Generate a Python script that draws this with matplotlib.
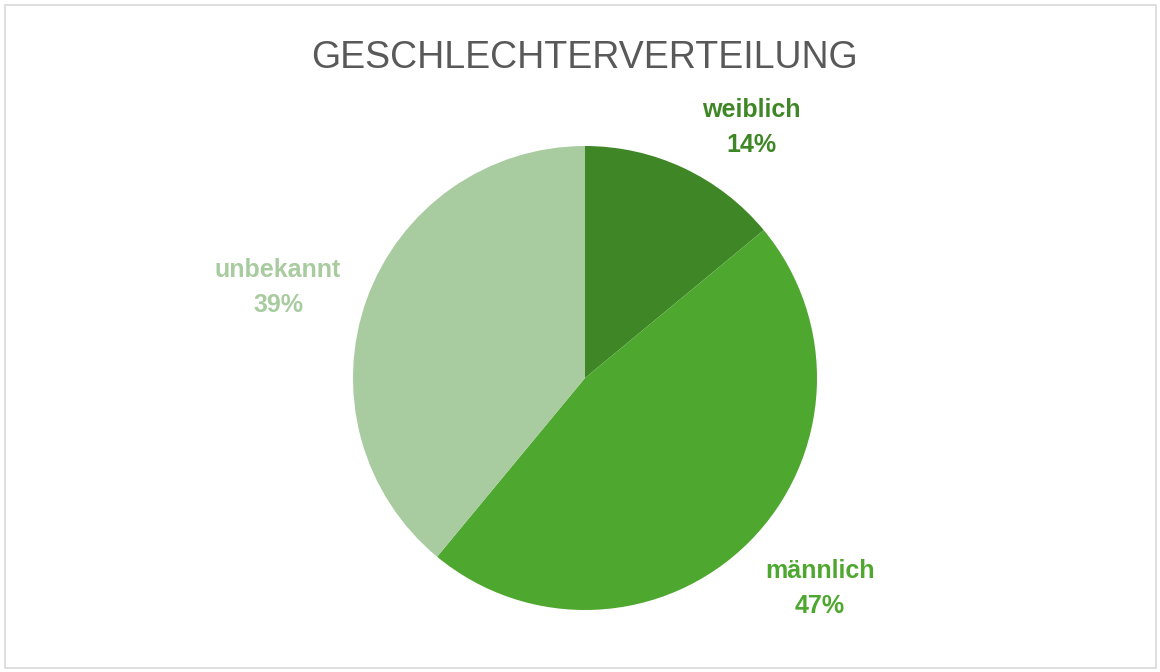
import matplotlib.pyplot as plt
from matplotlib.patches import Rectangle

# data
categories = ['weiblich', 'männlich', 'unbekannt']
shares = [14, 47, 39]
colors = ['#3f8726', '#4ea72e', '#a9cba0']

# label anchors (pie radius units, baseline of name line)
label_pos = [(0.716, 1.125), (1.013, -0.862), (-1.323, 0.435)]

plt.rcParams['font.family'] = ['Liberation Sans', 'DejaVu Sans']

my_dpi = 100
fig = plt.figure(figsize=(1160 / my_dpi, 672 / my_dpi), dpi=my_dpi)
fig.patches.append(Rectangle((5 / 1160, 4 / 672), 1151 / 1160, 663 / 672,
                             transform=fig.transFigure, fill=False,
                             edgecolor='#d9d9d9', linewidth=1.2))

ax = fig.add_axes([353 / 1160, 62 / 672, 464 / 1160, 464 / 672])
ax.pie(shares, colors=colors, startangle=90, counterclock=False,
       wedgeprops=dict(edgecolor='none'))
ax.set_xlim(-1, 1)
ax.set_ylim(-1, 1)
ax.set_aspect('equal')
ax.axis('off')

for name, val, col, (x, y) in zip(categories, shares, colors, label_pos):
    ax.text(x, y, name, ha='center', va='baseline', color=col,
            fontsize=18, fontweight='bold', clip_on=False)
    ax.text(x, y - 0.15, f'{val}%', ha='center', va='baseline', color=col,
            fontsize=18, fontweight='bold', clip_on=False)

fig.text(0.504, 0.899, 'GESCHLECHTERVERTEILUNG', ha='center', va='baseline',
         fontsize=27, color='#595959')

plt.savefig('out.png', dpi=my_dpi)
